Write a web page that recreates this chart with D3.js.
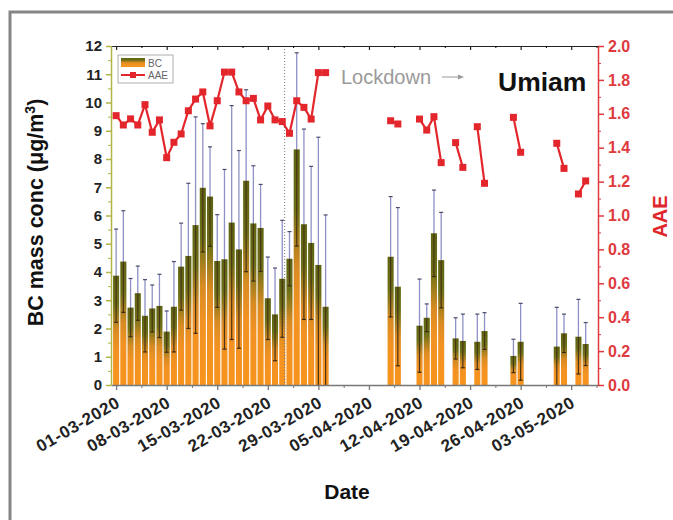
<!DOCTYPE html>
<html>
<head>
<meta charset="utf-8">
<script src="https://cdn.jsdelivr.net/npm/d3@7"></script>
<style>
  body { margin: 0; background: #fff; }
  svg { font-family: "Liberation Sans", Arial, sans-serif; }
</style>
</head>
<body>
<div id="chart"></div>
<script>
// daily BC and AAE at Umiam, Mar-May 2020
const dates = [
  "2020-03-01", "2020-03-02", "2020-03-03", "2020-03-04", "2020-03-05", "2020-03-06",
  "2020-03-07", "2020-03-08", "2020-03-09", "2020-03-10", "2020-03-11", "2020-03-12",
  "2020-03-13", "2020-03-14", "2020-03-15", "2020-03-16", "2020-03-17", "2020-03-18",
  "2020-03-19", "2020-03-20", "2020-03-21", "2020-03-22", "2020-03-23", "2020-03-24",
  "2020-03-25", "2020-03-26", "2020-03-27", "2020-03-28", "2020-03-29", "2020-03-30",
  "2020-04-08", "2020-04-09", "2020-04-12", "2020-04-13", "2020-04-14", "2020-04-15",
  "2020-04-17", "2020-04-18", "2020-04-20", "2020-04-21", "2020-04-25", "2020-04-26",
  "2020-05-01", "2020-05-02", "2020-05-04", "2020-05-05"
];
const bc = [
  3.87, 4.37, 2.74, 3.25, 2.45, 2.71, 2.80, 1.89, 2.77, 4.19, 4.57, 5.66,
  6.98, 6.67, 4.39, 4.45, 5.75, 4.80, 7.23, 5.72, 5.56, 3.07, 2.50, 3.76,
  4.47, 8.34, 5.69, 5.03, 4.25, 2.77,
  4.54, 3.48, 2.10, 2.38, 5.37, 4.42, 1.65, 1.56, 1.53, 1.91, 1.03, 1.53,
  1.36, 1.83, 1.71, 1.45
];
const bcSd = [
  1.65, 1.80, 1.03, 0.96, 1.28, 0.83, 1.12, 0.73, 1.60, 1.54, 2.57, 3.83,
  2.27, 1.76, 1.64, 3.18, 4.14, 3.50, 3.22, 2.04, 1.54, 1.46, 1.64, 2.07,
  0.96, 3.42, 3.37, 2.71, 4.52, 3.25,
  2.13, 2.80, 1.65, 0.49, 1.53, 1.69, 0.73, 0.95, 0.98, 0.65, 0.59, 1.36,
  1.39, 0.68, 1.32, 0.76
];
const aae = [
  1.589, 1.534, 1.570, 1.534, 1.654, 1.491, 1.564, 1.341, 1.432, 1.481, 1.618, 1.687,
  1.729, 1.529, 1.677, 1.846, 1.846, 1.729, 1.677, 1.691, 1.564, 1.646, 1.564, 1.554,
  1.485, 1.677, 1.638, 1.569, 1.843, 1.843,
  1.559, 1.540, 1.569, 1.504, 1.583, 1.312, 1.430, 1.284, 1.524, 1.190, 1.579, 1.373,
  1.426, 1.278, 1.127, 1.204
];
const tickLabels = ["01-03-2020", "08-03-2020", "15-03-2020", "22-03-2020", "29-03-2020",
  "05-04-2020", "12-04-2020", "19-04-2020", "26-04-2020", "03-05-2020"];
const lockdownDate = new Date(2020, 2, 24, 8);

const svgWidth = 673;
const svgHeight = 520;
const margin = { top: 46, right: 75, bottom: 135, left: 111 };
const width = svgWidth - margin.left - margin.right;
const height = svgHeight - margin.top - margin.bottom;

const parseDay = d3.timeParse('%Y-%m-%d');
const parseTick = d3.timeParse('%d-%m-%Y');
const data = dates.map((d, i) => ({ date: parseDay(d), bc: bc[i], sd: bcSd[i], aae: aae[i] }));
const tickDates = tickLabels.map(parseTick);

const svgRoot = d3.select('#chart')
    .append('svg')
    .attr('width', svgWidth)
    .attr('height', svgHeight);

// grey frame of the cropped figure
svgRoot.append('path')
    .attr('d', 'M10,520 V12 H673')
    .attr('fill', 'none')
    .attr('stroke', '#858585')
    .attr('stroke-width', 3);

const svg = svgRoot.append('g')
    .attr('transform', 'translate(' + margin.left + ',' + margin.top + ')');

const defs = svgRoot.append('defs');
const grad = defs.append('linearGradient')
    .attr('id', 'bcFill')
    .attr('x1', 0).attr('y1', 0).attr('x2', 0).attr('y2', 1);
grad.append('stop').attr('offset', '0%').attr('stop-color', '#5d6412');
grad.append('stop').attr('offset', '25%').attr('stop-color', '#6c7016');
grad.append('stop').attr('offset', '50%').attr('stop-color', '#d98b22');
grad.append('stop').attr('offset', '68%').attr('stop-color', '#f29222');
grad.append('stop').attr('offset', '100%').attr('stop-color', '#f7941d');

const xScale = d3.scaleTime()
    .domain([new Date(2020, 1, 29, 7), new Date(2020, 4, 6, 17)])
    .range([0, width]);

const yLeft = d3.scaleLinear().domain([0, 12]).range([height, 0]);
const yRight = d3.scaleLinear().domain([0, 2]).range([height, 0]);

const dayWidth = xScale(new Date(2020, 2, 2)) - xScale(new Date(2020, 2, 1));
const barWidth = dayWidth * 0.84;

// bars
svg.selectAll('.bar')
    .data(data)
    .enter().append('rect')
    .attr('class', 'bar')
    .attr('x', d => xScale(d.date) - barWidth / 2)
    .attr('y', d => yLeft(d.bc))
    .attr('width', barWidth)
    .attr('height', d => height - yLeft(d.bc))
    .attr('fill', 'url(#bcFill)');

// error bars: upper part light, lower part dark
const cap = 2;
const errs = svg.selectAll('.err')
    .data(data)
    .enter().append('g')
    .attr('class', 'err');
errs.append('line')
    .attr('x1', d => xScale(d.date)).attr('x2', d => xScale(d.date))
    .attr('y1', d => yLeft(d.bc)).attr('y2', d => yLeft(d.bc + d.sd))
    .attr('stroke', '#8e90c6').attr('stroke-width', 1.3);
errs.append('line')
    .attr('x1', d => xScale(d.date) - cap).attr('x2', d => xScale(d.date) + cap)
    .attr('y1', d => yLeft(d.bc + d.sd)).attr('y2', d => yLeft(d.bc + d.sd))
    .attr('stroke', '#4a4a6a').attr('stroke-width', 1.2);
errs.append('line')
    .attr('x1', d => xScale(d.date)).attr('x2', d => xScale(d.date))
    .attr('y1', d => yLeft(d.bc)).attr('y2', d => yLeft(Math.max(0, d.bc - d.sd)))
    .attr('stroke', '#4b3418').attr('stroke-width', 1.2);
errs.filter(d => d.bc - d.sd > 0).append('line')
    .attr('x1', d => xScale(d.date) - cap).attr('x2', d => xScale(d.date) + cap)
    .attr('y1', d => yLeft(d.bc - d.sd)).attr('y2', d => yLeft(d.bc - d.sd))
    .attr('stroke', '#3a2a14').attr('stroke-width', 1.2);

// lockdown marker
svg.append('line')
    .attr('x1', xScale(lockdownDate)).attr('x2', xScale(lockdownDate))
    .attr('y1', 0).attr('y2', height)
    .attr('stroke', '#777')
    .attr('stroke-width', 1)
    .attr('stroke-dasharray', '1,2');

// AAE line, broken where days are missing
const segments = [];
data.forEach((d, i) => {
    if (i === 0 || d3.timeDay.count(data[i - 1].date, d.date) > 1) segments.push([]);
    segments[segments.length - 1].push(d);
});
const aaeLine = d3.line()
    .x(d => xScale(d.date))
    .y(d => yRight(d.aae));
svg.selectAll('.aae-line')
    .data(segments)
    .enter().append('path')
    .attr('class', 'aae-line')
    .attr('d', aaeLine)
    .attr('fill', 'none')
    .attr('stroke', '#e3262b')
    .attr('stroke-width', 2.2);
svg.selectAll('.aae-pt')
    .data(data)
    .enter().append('rect')
    .attr('class', 'aae-pt')
    .attr('x', d => xScale(d.date) - 3.5)
    .attr('y', d => yRight(d.aae) - 3.5)
    .attr('width', 7)
    .attr('height', 7)
    .attr('fill', '#e3262b');

// axes
const minorTicks = tickDates.map(d => d3.timeHour.offset(d, 84));

const bottomAxis = svg.append('g')
    .attr('transform', 'translate(0,' + height + ')')
    .call(d3.axisBottom(xScale).tickValues(tickDates).tickSize(5).tickSizeOuter(0).tickFormat(''));
svg.append('g')
    .attr('class', 'minor-bottom')
    .attr('transform', 'translate(0,' + height + ')')
    .call(d3.axisBottom(xScale).tickValues(minorTicks).tickSize(3).tickSizeOuter(0).tickFormat(''))
    .select('.domain').remove();
bottomAxis.selectAll('path, line').attr('stroke', '#777').attr('stroke-width', 1.3);
svg.selectAll('.minor-bottom line').attr('stroke', '#777');

svg.selectAll('.x-label')
    .data(tickDates)
    .enter().append('text')
    .attr('class', 'x-label')
    .attr('transform', d => 'translate(' + (xScale(d) + 5) + ',' + (height + 21) + ') rotate(-30)')
    .attr('text-anchor', 'end')
    .style('font-size', '17px')
    .style('font-weight', 'bold')
    .style('letter-spacing', '0.6px')
    .attr('fill', '#222')
    .text((d, i) => tickLabels[i]);

const topAxis = svg.append('g')
    .call(d3.axisTop(xScale).tickValues(tickDates).tickSize(-4).tickSizeOuter(0).tickFormat(''));
svg.append('g')
    .attr('class', 'minor-top')
    .call(d3.axisTop(xScale).tickValues(minorTicks).tickSize(-2).tickSizeOuter(0).tickFormat(''))
    .select('.domain').remove();
topAxis.selectAll('path, line').attr('stroke', '#222').attr('stroke-width', 1.2);

const leftAxis = svg.append('g')
    .call(d3.axisLeft(yLeft).tickValues(d3.range(0, 13)).tickSize(5).tickSizeOuter(0));
svg.append('g')
    .attr('class', 'minor-left')
    .call(d3.axisLeft(yLeft).tickValues(d3.range(0.5, 12, 1)).tickSize(3).tickFormat(''))
    .select('.domain').remove();
leftAxis.selectAll('path, line').attr('stroke', '#b3b545').attr('stroke-width', 1.5);
svg.selectAll('.minor-left line').attr('stroke', '#b3b545');
leftAxis.selectAll('text')
    .style('font-size', '15px')
    .style('font-weight', 'bold')
    .attr('fill', '#222')
    .attr('x', -9);

const rightAxis = svg.append('g')
    .attr('transform', 'translate(' + width + ',0)')
    .call(d3.axisRight(yRight).tickValues(d3.range(0, 2.01, 0.2)).tickSize(6).tickSizeOuter(0)
        .tickFormat(d3.format('.1f')));
svg.append('g')
    .attr('class', 'minor-right')
    .attr('transform', 'translate(' + width + ',0)')
    .call(d3.axisRight(yRight).tickValues(d3.range(0.1, 2, 0.2)).tickSize(3).tickFormat(''))
    .select('.domain').remove();
rightAxis.selectAll('path, line').attr('stroke', '#e0383d').attr('stroke-width', 1.5);
svg.selectAll('.minor-right line').attr('stroke', '#e0383d');
rightAxis.selectAll('text')
    .style('font-size', '16px')
    .style('font-weight', 'bold')
    .attr('fill', '#de3a40')
    .attr('x', 10);

// legend
const legend = svg.append('g')
    .attr('transform', 'translate(7,9)');
legend.append('rect')
    .attr('width', 55).attr('height', 28)
    .attr('fill', '#fff')
    .attr('stroke', '#999').attr('stroke-width', 0.8);
legend.append('rect')
    .attr('x', 3).attr('y', 3).attr('width', 24).attr('height', 9)
    .attr('fill', 'url(#bcFill)');
legend.append('text')
    .attr('x', 30).attr('y', 11.5)
    .style('font-size', '10px').attr('fill', '#666')
    .text('BC');
legend.append('line')
    .attr('x1', 3).attr('x2', 27).attr('y1', 20).attr('y2', 20)
    .attr('stroke', '#e3262b').attr('stroke-width', 2);
legend.append('rect')
    .attr('x', 12).attr('y', 17).attr('width', 6).attr('height', 6)
    .attr('fill', '#e3262b');
legend.append('text')
    .attr('x', 30).attr('y', 24)
    .style('font-size', '10px').attr('fill', '#666')
    .text('AAE');

// annotations
svg.append('text')
    .attr('x', 230).attr('y', 38)
    .style('font-size', '20px')
    .attr('fill', '#9a9a9a')
    .text('Lockdown');
svg.append('line')
    .attr('x1', 331).attr('x2', 350).attr('y1', 31).attr('y2', 31)
    .attr('stroke', '#9a9a9a').attr('stroke-width', 1);
svg.append('path')
    .attr('d', 'M347,28.5 L353,31 L347,33.5 Z')
    .attr('fill', '#9a9a9a');
svg.append('text')
    .attr('x', 387).attr('y', 45)
    .style('font-size', '26.5px')
    .style('font-weight', 'bold')
    .attr('fill', '#111')
    .text('Umiam');

// axis titles
const yTitle = svgRoot.append('text')
    .attr('transform', 'translate(43,' + (margin.top + height / 2 - 3) + ') rotate(-90)')
    .attr('text-anchor', 'middle')
    .style('font-size', '21.5px')
    .style('font-weight', 'bold')
    .attr('fill', '#111');
yTitle.append('tspan').text('BC mass conc (μg/m');
yTitle.append('tspan').attr('dy', -8).style('font-size', '14px').text('3');
yTitle.append('tspan').attr('dy', 8).text(')');

svgRoot.append('text')
    .attr('transform', 'translate(667,' + (margin.top + height / 2 + 1) + ') rotate(-90)')
    .attr('text-anchor', 'middle')
    .style('font-size', '20px')
    .style('font-weight', 'bold')
    .attr('fill', '#e0262b')
    .text('AAE');

svgRoot.append('text')
    .attr('x', 347)
    .attr('y', 499)
    .attr('text-anchor', 'middle')
    .style('font-size', '21px')
    .style('font-weight', 'bold')
    .attr('fill', '#111')
    .text('Date');
</script>
</body>
</html>
